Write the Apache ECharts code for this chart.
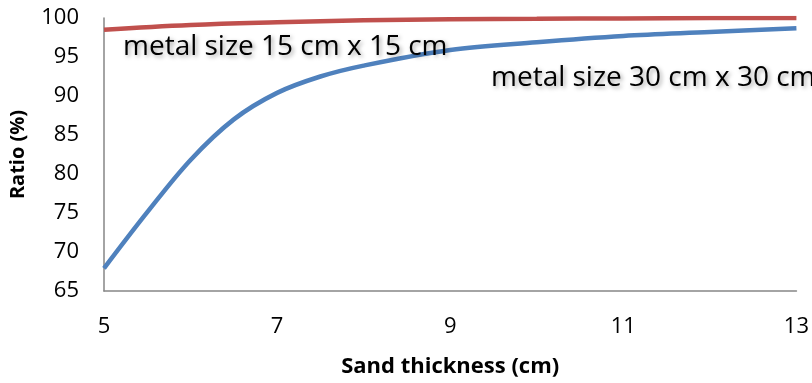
<!DOCTYPE html>
<html>
<head>
<meta charset="utf-8">
<script src="https://cdn.jsdelivr.net/npm/echarts@6/dist/echarts.min.js"></script>
<style>
  html, body { margin: 0; padding: 0; background: #fff; }
  #chart { width: 812px; height: 383px; }
</style>
</head>
<body>
<div id="chart"></div>
<script>
// Sand thickness (cm) and ratio (%) for the 15 cm x 15 cm plate
const thickness15 = [5, 6, 7, 8, 9, 10, 11, 12, 13];
const ratio15 = [98.5, 99.1, 99.45, 99.7, 99.85, 99.9, 99.95, 100, 100];
// Sand thickness (cm) and ratio (%) for the 30 cm x 30 cm plate
const thickness30 = [5, 5.5, 6, 6.5, 7, 7.5, 8, 9, 10, 11, 12, 13];
const ratio30 = [67.9, 75.1, 81.8, 87.0, 90.4, 92.5, 93.9, 95.9, 96.9, 97.7, 98.2, 98.7];

const label15 = 'metal size 15 cm x 15 cm';
const label30 = 'metal size 30 cm x 30 cm';
const xTitle = 'Sand thickness (cm)';
const yTitle = 'Ratio (%)';

const FONT = '"Open Sans", sans-serif';
const AXIS_GRAY = '#868686';

const pairs = (xs, ys) => xs.map((x, i) => [x, ys[i]]);

const shadowText = {
  fontFamily: FONT,
  fontSize: 28,
  fill: '#000',
  textShadowColor: 'rgba(0,0,0,0.35)',
  textShadowBlur: 4,
  textShadowOffsetX: 2,
  textShadowOffsetY: 2
};

const chart = echarts.init(document.getElementById('chart'), null, { renderer: 'canvas' });
chart.setOption({
  animation: false,
  backgroundColor: '#fff',
  grid: { left: 103, right: 13, top: 18, bottom: 90 },
  xAxis: {
    type: 'value',
    min: 5, max: 13, interval: 2,
    name: xTitle,
    nameLocation: 'middle',
    nameGap: 65,
    nameTextStyle: { fontFamily: FONT, fontSize: 22, fontWeight: 'bold', color: '#000' },
    axisLine: { show: true, lineStyle: { color: AXIS_GRAY, width: 1.5 } },
    axisTick: { show: false },
    splitLine: { show: false },
    axisLabel: { fontFamily: FONT, fontSize: 22, color: '#000', margin: 25 }
  },
  yAxis: {
    type: 'value',
    min: 65, max: 100, interval: 5,
    name: yTitle,
    nameLocation: 'middle',
    nameGap: 76,
    nameRotate: 90,
    nameTextStyle: { fontFamily: FONT, fontSize: 20, fontWeight: 'bold', color: '#000' },
    axisLine: { show: true, lineStyle: { color: AXIS_GRAY, width: 1.5 } },
    axisTick: { show: false },
    splitLine: { show: false },
    axisLabel: { fontFamily: FONT, fontSize: 22, color: '#000', margin: 25 }
  },
  series: [
    {
      type: 'line', name: label15, data: pairs(thickness15, ratio15), smooth: 0.4,
      showSymbol: false,
      lineStyle: { color: '#C0504D', width: 4.5 }
    },
    {
      type: 'line', name: label30, data: pairs(thickness30, ratio30), smooth: 0.35,
      showSymbol: false,
      lineStyle: { color: '#4F81BD', width: 4.5 }
    }
  ],
  graphic: [
    { type: 'text', left: 123, top: 33, z: 100, style: Object.assign({ text: label15 }, shadowText) },
    { type: 'text', left: 491, top: 64, z: 100, style: Object.assign({ text: label30 }, shadowText) }
  ]
});
</script>
</body>
</html>
